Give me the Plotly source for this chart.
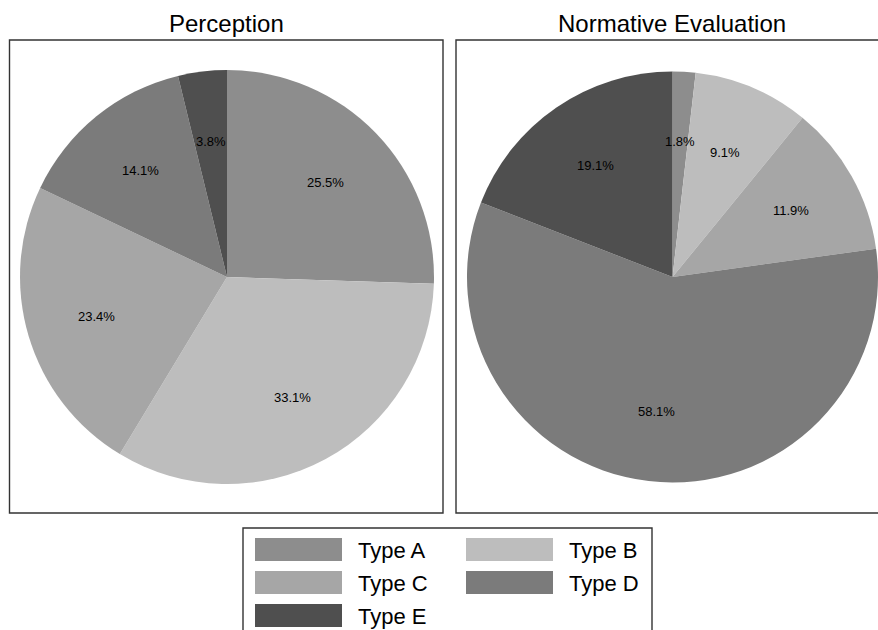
import math
import plotly.graph_objects as go

# ---- data ----
categories = ["Type A", "Type B", "Type C", "Type D", "Type E"]
perception = [25.5, 33.1, 23.4, 14.1, 3.8]
normative = [1.8, 9.1, 11.9, 58.1, 19.1]
panel_titles = ["Perception", "Normative Evaluation"]
colors = ["#8d8d8d", "#bdbdbd", "#a6a6a6", "#7b7b7b", "#4f4f4f"]

W, H = 878, 630
FONT = "Liberation Sans, Arial, Helvetica, sans-serif"

# pie geometry in pixels (center x, center y, radius)
pies = [
    (perception, 227.0, 277.0, 207.0),
    (normative, 672.5, 277.0, 205.5),
]

fig = go.Figure()
annotations = []
shapes = []

for vals, cx, cy, r in pies:
    fig.add_trace(go.Pie(
        labels=categories,
        values=vals,
        sort=False,
        direction="clockwise",
        rotation=0,
        marker=dict(colors=colors, line=dict(width=0)),
        textinfo="none",
        hoverinfo="label+percent",
        showlegend=False,
        domain=dict(x=[(cx - r) / W, min((cx + r) / W, 1.0)],
                    y=[1 - (cy + r) / H, 1 - (cy - r) / H]),
    ))
    # percent labels placed at a fixed fraction of the radius on each slice's mid-angle
    total = sum(vals)
    cum = 0.0
    for v in vals:
        mid = (cum + v / 2) / total * 2 * math.pi
        cum += v
        lx = cx + 0.66 * r * math.sin(mid)
        ly = cy - 0.66 * r * math.cos(mid)
        annotations.append(dict(
            x=lx / W, y=1 - ly / H, xref="paper", yref="paper",
            text=f"{v / total * 100:.1f}%", showarrow=False,
            xanchor="center", yanchor="middle",
            font=dict(family=FONT, size=13, color="#000000"),
        ))

# panel frames
frames = [(9.5, 443.0), (456.0, 890.0)]
for (x0, x1) in frames:
    shapes.append(dict(type="rect", xref="paper", yref="paper",
                       x0=x0 / W, x1=x1 / W, y0=1 - 513 / H, y1=1 - 40 / H,
                       line=dict(color="#333333", width=1.4), fillcolor="rgba(0,0,0,0)"))

# panel titles
for title, (x0, x1) in zip(panel_titles, [(9.5, 443.0), (456.0, 888.0)]):
    annotations.append(dict(
        x=((x0 + x1) / 2) / W, y=1 - 24 / H, xref="paper", yref="paper",
        text=title, showarrow=False, xanchor="center", yanchor="middle",
        font=dict(family=FONT, size=24, color="#000000"),
    ))

# legend (drawn manually: wide swatches in two columns)
shapes.append(dict(type="rect", xref="paper", yref="paper",
                   x0=243 / W, x1=652 / W, y0=1 - 660 / H, y1=1 - 528 / H,
                   line=dict(color="#333333", width=1.4), fillcolor="rgba(0,0,0,0)"))
for i, (cat, col) in enumerate(zip(categories, colors)):
    row, c = divmod(i, 2)
    sx = 255 + c * 211
    sy = 538 + row * 33
    shapes.append(dict(type="rect", xref="paper", yref="paper",
                       x0=sx / W, x1=(sx + 87) / W, y0=1 - (sy + 23) / H, y1=1 - sy / H,
                       line=dict(width=0), fillcolor=col))
    annotations.append(dict(
        x=(sx + 101) / W, y=1 - (sy + 12) / H, xref="paper", yref="paper",
        text=cat, showarrow=False, xanchor="left", yanchor="middle",
        font=dict(family=FONT, size=22, color="#000000"),
    ))

fig.update_layout(
    width=W, height=H,
    margin=dict(l=0, r=0, t=0, b=0),
    paper_bgcolor="#ffffff",
    plot_bgcolor="#ffffff",
    shapes=shapes,
    annotations=annotations,
    font=dict(family=FONT),
)

fig.write_html(
    "out.html",
    config={"displayModeBar": False},
    post_script="document.body.style.margin='0';document.body.style.padding='0';"
                "document.body.style.overflow='hidden';",
)
